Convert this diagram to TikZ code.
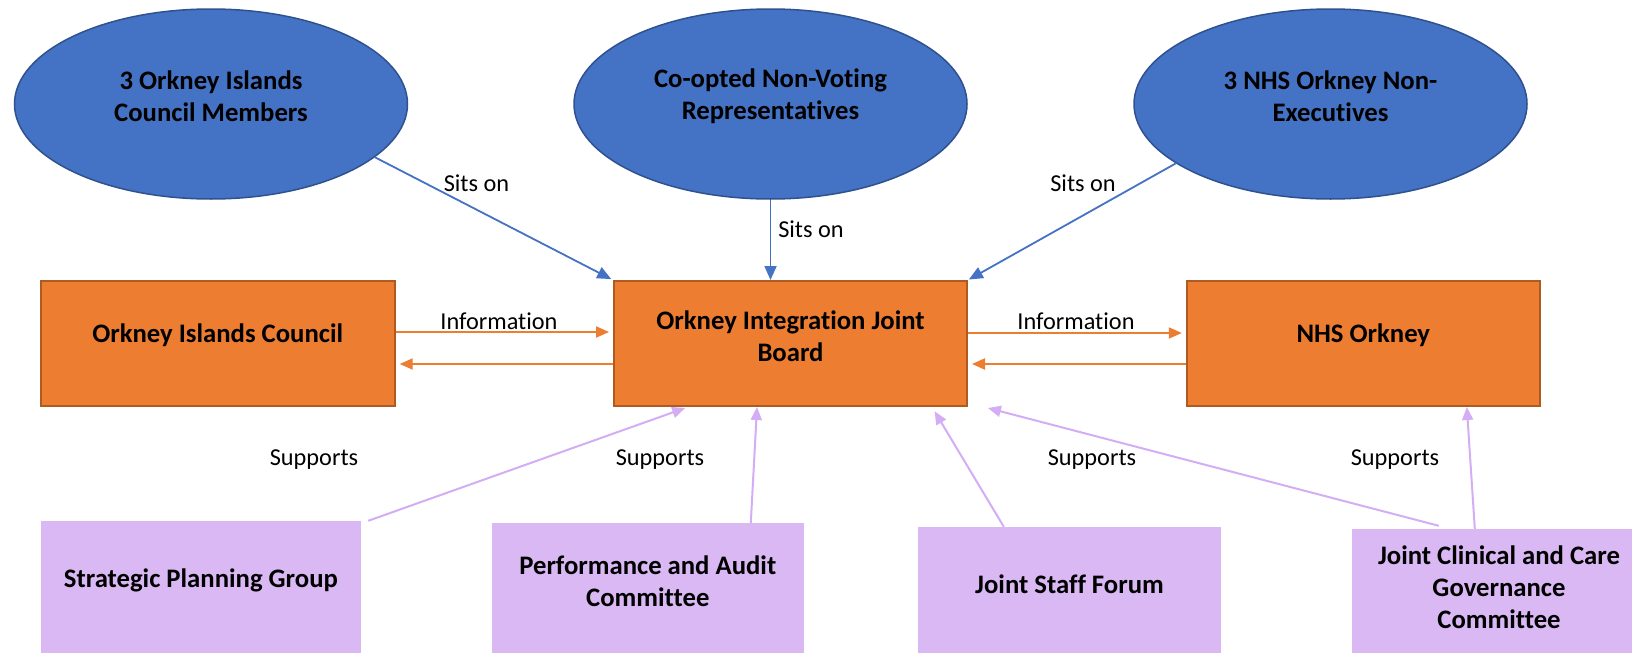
\documentclass[tikz,border=0pt]{standalone}
\usepackage{fontspec}
\setmainfont{Carlito}[Ligatures=NoCommon]
\usetikzlibrary{shapes.geometric,arrows.meta}
\definecolor{blfill}{HTML}{4472C4}
\definecolor{bldraw}{HTML}{2F528F}
\definecolor{orfill}{HTML}{ED7D31}
\definecolor{ordraw}{HTML}{AE5A21}
\definecolor{pufill}{HTML}{D9B8F3}
\definecolor{puline}{HTML}{D3AEF5}
\begin{document}
\begin{tikzpicture}[x=1pt,y=-1pt,
  btxt/.style={font=\fontsize{26.7}{32}\selectfont\bfseries, align=center, inner sep=0pt},
  lbl/.style={font=\fontsize{24.3}{29}\selectfont, inner sep=0pt},
  ell/.style={ellipse, draw=bldraw, fill=blfill, line width=1.5pt, minimum width=393pt, minimum height=190pt, inner sep=0pt},
  orbox/.style={rectangle, draw=ordraw, fill=orfill, line width=2pt, minimum width=353pt, minimum height=125pt, inner sep=0pt},
  pubox/.style={rectangle, fill=pufill, inner sep=0pt},
  bluearrow/.style={draw=blfill, line width=1.8pt, -{Triangle[length=14pt,width=12pt]}},
  orarrow/.style={draw=orfill, line width=2pt, -{Triangle[length=13pt,width=11pt]}},
  puarrow/.style={draw=puline, line width=2pt, -{Triangle[length=13pt,width=11pt]}}
]
\useasboundingbox (0,0) rectangle (1632,653);
\fill[white] (0,0) rectangle (1632,653);

% ellipses
\node[ell, label={[btxt,yshift=8pt]center:{3 Orkney Islands\\Council Members}}] (e1) at (211,104) {};
\node[ell, label={[btxt,yshift=8pt]center:{Co-opted Non-Voting\\Representatives}}] (e2) at (770.5,104) {};
\node[ell, label={[btxt,yshift=8pt]center:{3 NHS Orkney Non-\\Executives}}] (e3) at (1330.5,104) {};

% orange boxes
\node[orbox, minimum width=354pt, label={[btxt,yshift=8.5pt]center:{Orkney Islands Council}}] (oic) at (217.7,343.5) {};
\node[orbox, label={[btxt,yshift=7.5pt]center:{Orkney Integration Joint\\Board}}] (oijb) at (790.5,343.5) {};
\node[orbox, label={[btxt,yshift=8.5pt]center:{NHS Orkney}}] (nhs) at (1363.3,343.5) {};

% purple boxes
\node[pubox, minimum width=320.2pt, minimum height=132pt, label={[btxt,yshift=7pt]center:{Strategic Planning Group}}] (spg) at (200.9,587) {};
\node[pubox, minimum width=312.4pt, minimum height=130pt, label={[btxt,yshift=6.5pt]center:{Performance and Audit\\Committee}}] (pac) at (647.8,588) {};
\node[pubox, minimum width=303pt, minimum height=126pt, label={[btxt,yshift=6pt]center:{Joint Staff Forum}}] (jsf) at (1069.5,590) {};
\node[pubox, minimum width=294pt, minimum height=124pt, label={[btxt,yshift=4pt]center:{Joint Clinical and Care\\Governance\\Committee}}] (jccg) at (1499,591) {};

% blue arrows
\draw[bluearrow, shorten >=2pt] (e1.-18) -- (oijb.north west);
\draw[bluearrow] (e2.south) -- (e2.south |- oijb.north);
\draw[bluearrow, shorten >=1pt] (e3.-159) -- (oijb.north east);

% orange arrows
\draw[orarrow, shorten >=4pt] ([yshift=11.5pt]oic.east) -- ([yshift=11.5pt]oijb.west);
\draw[orarrow, shorten >=4pt] ([yshift=-20.5pt]oijb.west) -- ([yshift=-20.5pt]oic.east);
\draw[orarrow, shorten >=4pt] ([yshift=10.5pt]oijb.east) -- ([yshift=10.5pt]nhs.west);
\draw[orarrow, shorten >=4pt] ([yshift=-20.5pt]nhs.west) -- ([yshift=-20.5pt]oijb.east);

% purple arrows
\draw[puarrow, shorten >=3pt] ([xshift=7pt]spg.north east) -- ([xshift=75pt]oijb.south west);
\draw[puarrow] ([xshift=103pt]pac.north) -- ([xshift=144pt]oijb.south west);
\draw[puarrow, shorten >=5pt] ([xshift=86pt]jsf.north west) -- ([xshift=-36pt]oijb.south east);
\draw[puarrow, shorten >=4pt] ([xshift=87pt,yshift=3pt]jccg.north west) -- ([xshift=16pt]oijb.south east);
\draw[puarrow] ([xshift=123pt]jccg.north west) -- ([xshift=281pt]nhs.south west);

% labels
\node[lbl] (inf1) at (499,321) {Information};
\node[lbl] (inf2) at (1076,321) {Information};
\node[lbl] (s1) at (476.5,183) {Sits on};
\node[lbl] (s2) at (811,229) {Sits on};
\node[lbl] (s3) at (1083,183) {Sits on};
\node[lbl] (sp1) at (314,460) {Supports};
\node[lbl] (sp2) at (660,460) {Supports};
\node[lbl] (sp3) at (1092,460) {Supports};
\node[lbl] (sp4) at (1395,460) {Supports};
\end{tikzpicture}
\end{document}
